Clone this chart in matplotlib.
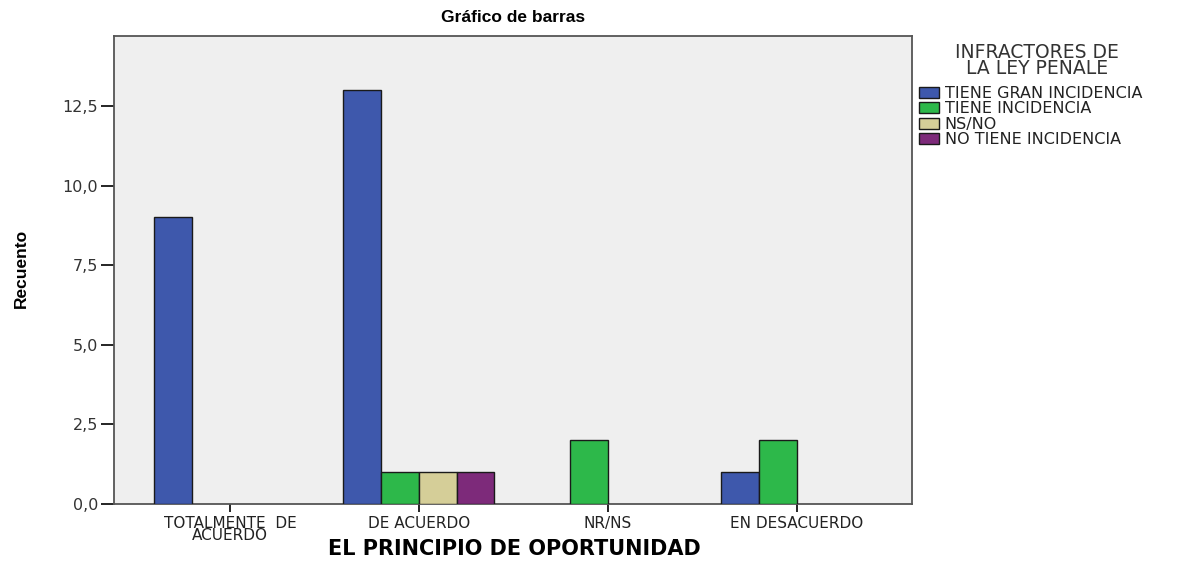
import numpy as np
import matplotlib
matplotlib.use('Agg')
import matplotlib.pyplot as plt
from matplotlib.patches import Patch

plt.rcParams['font.family'] = ['DejaVu Sans']

# data
categories = ['TOTALMENTE  DE\nACUERDO', 'DE ACUERDO', 'NR/NS', 'EN DESACUERDO']
series_names = ['TIENE GRAN INCIDENCIA', 'TIENE INCIDENCIA', 'NS/NO', 'NO TIENE INCIDENCIA']
gran_incidencia = [9, 13, 0, 1]
incidencia = [0, 1, 2, 2]
ns_no = [0, 1, 0, 0]
no_incidencia = [0, 1, 0, 0]
y_ticks = [0, 2.5, 5, 7.5, 10, 12.5]
y_tick_labels = ['0,0', '2,5', '5,0', '7,5', '10,0', '12,5']

series = [gran_incidencia, incidencia, ns_no, no_incidencia]
colors = ['#3E58AC', '#2DB84A', '#D5CE98', '#7D2A7A']

W, H = 1182, 569
fig = plt.figure(figsize=(W / 100, H / 100), dpi=100)
ax = fig.add_axes([114 / W, 1 - 504 / H, (912 - 114) / W, (504 - 36) / H])
ax.set_facecolor('#EFEFEF')

x = np.arange(len(categories))
width = 0.2
for i, (vals, col) in enumerate(zip(series, colors)):
    vals = np.array(vals, dtype=float)
    mask = vals > 0
    ax.bar(x[mask] + (i - 1.5) * width, vals[mask], width=width, color=col,
           edgecolor='#1a1a1a', linewidth=1.0, zorder=3)

ax.set_xlim(-0.614, 3.61)
ax.set_ylim(0, 14.7)
ax.set_xticks(x)
ax.set_xticklabels(categories, fontsize=11, linespacing=0.75, color='#222222')
ax.set_yticks(y_ticks)
ax.set_yticklabels(y_tick_labels, fontsize=11.5, color='#333333')
ax.tick_params(axis='y', length=9.5, width=1.2, pad=2)
ax.tick_params(axis='x', length=6, width=1.2, pad=2.5)
for s in ax.spines.values():
    s.set_color('#555555')
    s.set_linewidth(1.3)

fig.text(513 / W, 1 - 18 / H, 'Gráfico de barras', fontsize=12.5, fontweight='bold',
         family='Liberation Sans', ha='center', va='center')
fig.text(514 / W, 1 - 549 / H, 'EL PRINCIPIO DE OPORTUNIDAD', fontsize=15,
         fontweight='bold', ha='center', va='center')
fig.text(21 / W, 1 - 268 / H, 'Recuento', fontsize=12.5, fontweight='bold',
         family='Liberation Sans', rotation=90, ha='center', va='center')

# legend title drawn separately so it can sit a bit above the entries
fig.text(1037 / W, 1 - 60 / H, 'INFRACTORES DE\nLA LEY PENALE', fontsize=13.5,
         color='#333333', ha='center', va='center', linespacing=0.8,
         multialignment='center')
handles = [Patch(facecolor=c, edgecolor='#1a1a1a', label=n) for c, n in zip(colors, series_names)]
leg = fig.legend(handles=handles, loc='upper left', bbox_to_anchor=(919 / W, 1 - 86 / H),
                 frameon=False, fontsize=11.5, handlelength=1.25, handleheight=0.7,
                 handletextpad=0.35, labelspacing=0.03, borderpad=0, borderaxespad=0)
for t in leg.get_texts():
    t.set_color('#222222')

fig.savefig('out.png', dpi=100)
